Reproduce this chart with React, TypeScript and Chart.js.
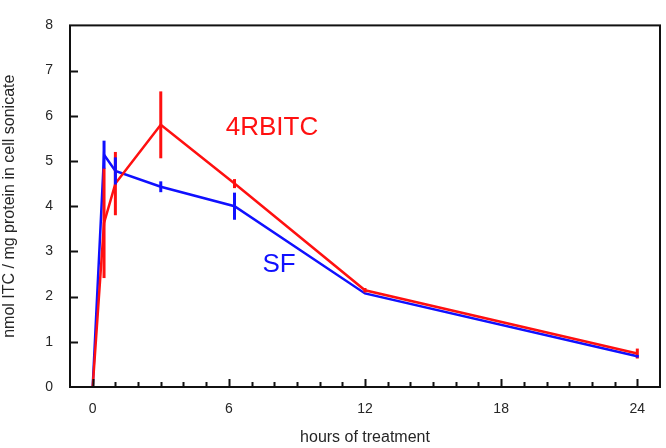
import React, { useEffect, useRef } from "react";
import { Chart, registerables } from "chart.js";

Chart.register(...registerables);

const hours = [0, 0.5, 1, 3, 6.25, 12, 24];
const sfValues = [0, 5.14, 4.78, 4.43, 4.0, 2.07, 0.68];
const sfErrors = [0, 0.31, 0.3, 0.12, 0.3, 0, 0.03];
const rbValues = [0, 3.63, 4.5, 5.8, 4.5, 2.14, 0.74];
const rbErrors = [0, 1.22, 0.7, 0.74, 0.1, 0.05, 0.11];
const xTickValues = [0, 6, 12, 18, 24];
const seriesLabels = ["4RBITC", "SF"];
const xTitle = "hours of treatment";
const yTitle = "nmol ITC / mg protein in cell sonicate";

const RED = "#ff1010";
const BLUE = "#1010ff";
const FONT = "Arial, 'Liberation Sans', sans-serif";
const TEXT = "#262626";

const decorPlugin = {
  id: "decor",
  afterDatasetsDraw(chart: any) {
    const ctx = chart.ctx;
    const xs = chart.scales.x;
    const ys = chart.scales.y;
    const errs = [rbErrors, sfErrors];
    ctx.save();
    chart.data.datasets.forEach((ds: any, di: number) => {
      ctx.strokeStyle = ds.borderColor;
      ctx.lineWidth = 3;
      ctx.lineCap = "butt";
      ds.data.forEach((p: any, i: number) => {
        const e = errs[di][i];
        if (!e) return;
        const px = xs.getPixelForValue(p.x);
        ctx.beginPath();
        ctx.moveTo(px, ys.getPixelForValue(p.y + e));
        ctx.lineTo(px, ys.getPixelForValue(p.y - e));
        ctx.stroke();
      });
    });
    ctx.restore();
  },
  afterDraw(chart: any) {
    const ctx = chart.ctx;
    const a = chart.chartArea;
    const xs = chart.scales.x;
    const ys = chart.scales.y;
    ctx.save();
    ctx.strokeStyle = "#111";
    ctx.lineWidth = 2;
    ctx.strokeRect(a.left, a.top, a.right - a.left, a.bottom - a.top);
    ctx.beginPath();
    for (let v = 1; v < 8; v++) {
      const py = Math.round(ys.getPixelForValue(v)) + 0.5;
      ctx.moveTo(a.left, py);
      ctx.lineTo(a.left + 8, py);
    }
    for (let h = 0; h <= 24; h++) {
      const px = Math.round(xs.getPixelForValue(h)) + 0.5;
      const len = h % 6 === 0 ? 8 : 5;
      ctx.moveTo(px, a.bottom);
      ctx.lineTo(px, a.bottom - len);
    }
    ctx.stroke();

    ctx.font = `26px ${FONT}`;
    ctx.textAlign = "center";
    ctx.textBaseline = "middle";
    ctx.fillStyle = RED;
    ctx.fillText(seriesLabels[0], 272, 128);
    ctx.fillStyle = BLUE;
    ctx.fillText(seriesLabels[1], 279, 265);
    ctx.restore();
  },
};

export default function App() {
  const ref = useRef<HTMLCanvasElement>(null);
  useEffect(() => {
    const chart = new Chart(ref.current!, {
      type: "line",
      data: {
        datasets: [
          {
            label: seriesLabels[0],
            data: hours.map((h, i) => ({ x: h, y: rbValues[i] })),
            borderColor: RED,
            backgroundColor: RED,
            borderWidth: 2.5,
            pointRadius: 0,
            tension: 0,
            order: 1,
          },
          {
            label: seriesLabels[1],
            data: hours.map((h, i) => ({ x: h, y: sfValues[i] })),
            borderColor: BLUE,
            backgroundColor: BLUE,
            borderWidth: 2.5,
            pointRadius: 0,
            tension: 0,
            order: 2,
          },
        ],
      },
      options: {
        responsive: false,
        animation: false,
        devicePixelRatio: 1,
        layout: { padding: { top: 8, right: 6, left: 0, bottom: 0 } },
        plugins: { legend: { display: false }, tooltip: { enabled: false } },
        scales: {
          x: {
            type: "linear",
            min: -1,
            max: 25,
            grid: { display: false, drawTicks: false },
            border: { display: false },
            afterBuildTicks: (s: any) => {
              s.ticks = xTickValues.map((v) => ({ value: v }));
            },
            afterFit: (s: any) => {
              s.height = 61;
            },
            ticks: {
              padding: 14,
              color: TEXT,
              font: { family: FONT, size: 14 },
              maxRotation: 0,
            },
            title: {
              display: true,
              text: xTitle,
              color: TEXT,
              font: { family: FONT, size: 16 },
              padding: { top: 0, bottom: 1 },
            },
          },
          y: {
            min: 0,
            max: 8,
            grid: { display: false, drawTicks: false },
            border: { display: false },
            afterFit: (s: any) => {
              s.width = 70;
            },
            ticks: {
              stepSize: 1,
              padding: 17,
              color: TEXT,
              font: { family: FONT, size: 14 },
            },
            title: {
              display: true,
              text: yTitle,
              color: TEXT,
              font: { family: FONT, size: 16 },
              padding: { top: 0, bottom: 0 },
            },
          },
        },
      },
      plugins: [decorPlugin],
    });
    return () => chart.destroy();
  }, []);
  return (
    <div style={{ position: "fixed", left: 0, top: 0, width: 666, height: 448, background: "#fff" }}>
      <canvas ref={ref} width={666} height={448} />
    </div>
  );
}
